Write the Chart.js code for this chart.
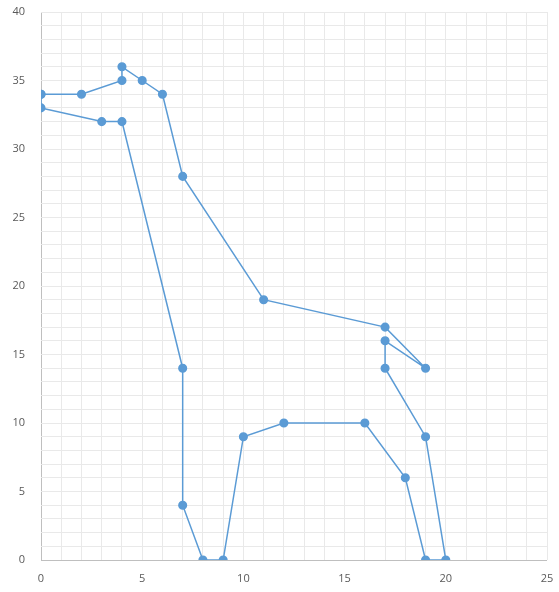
<!DOCTYPE html>
<html>
<head>
<meta charset="utf-8">
<script src="https://cdn.jsdelivr.net/npm/chart.js@4"></script>
<style>
  html, body { margin: 0; padding: 0; background: #fff; }
  #wrap { width: 559px; height: 592px; position: relative; }
</style>
</head>
<body>
<div id="wrap"><canvas id="chart"></canvas></div>
<script>
// giraffe outline, points in drawing order
const xValues = [0, 2, 4, 4, 5, 6, 7, 11, 17, 19, 17, 17, 19, 20, 19, 18, 16, 12, 10, 9, 8, 7, 7, 4, 3, 0, 0];
const yValues = [34, 34, 35, 36, 35, 34, 28, 19, 17, 14, 16, 14, 9, 0, 0, 6, 10, 10, 9, 0, 0, 4, 14, 32, 32, 33, 34];
const xRange = [0, 25];
const yRange = [0, 40];
const labelStep = 5;

const points = xValues.map((x, i) => ({ x: x, y: yValues[i] }));

const tickFont = { family: 'Open Sans', size: 11 };
const gridColor = '#e9e9e9';

new Chart(document.getElementById('chart'), {
    type: 'scatter',
    data: {
        datasets: [{
            data: points,
            showLine: true,
            borderColor: '#5b9bd5',
            backgroundColor: '#5b9bd5',
            borderWidth: 1.5,
            pointRadius: 3.8,
            pointHoverRadius: 3.8,
            tension: 0
        }]
    },
    options: {
        responsive: true,
        maintainAspectRatio: false,
        animation: false,
        layout: { padding: { top: 12, right: 12, left: 0, bottom: 0 } },
        plugins: { legend: { display: false }, tooltip: { enabled: false } },
        scales: {
            x: {
                type: 'linear',
                min: xRange[0], max: xRange[1],
                afterFit: s => { s.height = 32; s.paddingLeft = 0; s.paddingRight = 0; },
                ticks: {
                    stepSize: 1, autoSkip: false, maxRotation: 0,
                    padding: 12, color: '#595959', font: tickFont,
                    callback: v => (v % labelStep === 0 ? v : '')
                },
                grid: {
                    color: ctx => (ctx.tick && ctx.tick.value === 0 ? '#bfbfbf' : gridColor),
                    drawTicks: false
                },
                border: { display: false }
            },
            y: {
                type: 'linear',
                min: yRange[0], max: yRange[1],
                afterFit: s => { s.width = 41; s.paddingTop = 0; s.paddingBottom = 0; },
                ticks: {
                    stepSize: 1, autoSkip: false,
                    padding: 16, color: '#595959', font: tickFont,
                    callback: v => (v % labelStep === 0 ? v : '')
                },
                grid: {
                    color: ctx => (ctx.tick && ctx.tick.value === 0 ? '#bfbfbf' : gridColor),
                    drawTicks: false
                },
                border: { display: false }
            }
        }
    }
});
</script>
</body>
</html>
